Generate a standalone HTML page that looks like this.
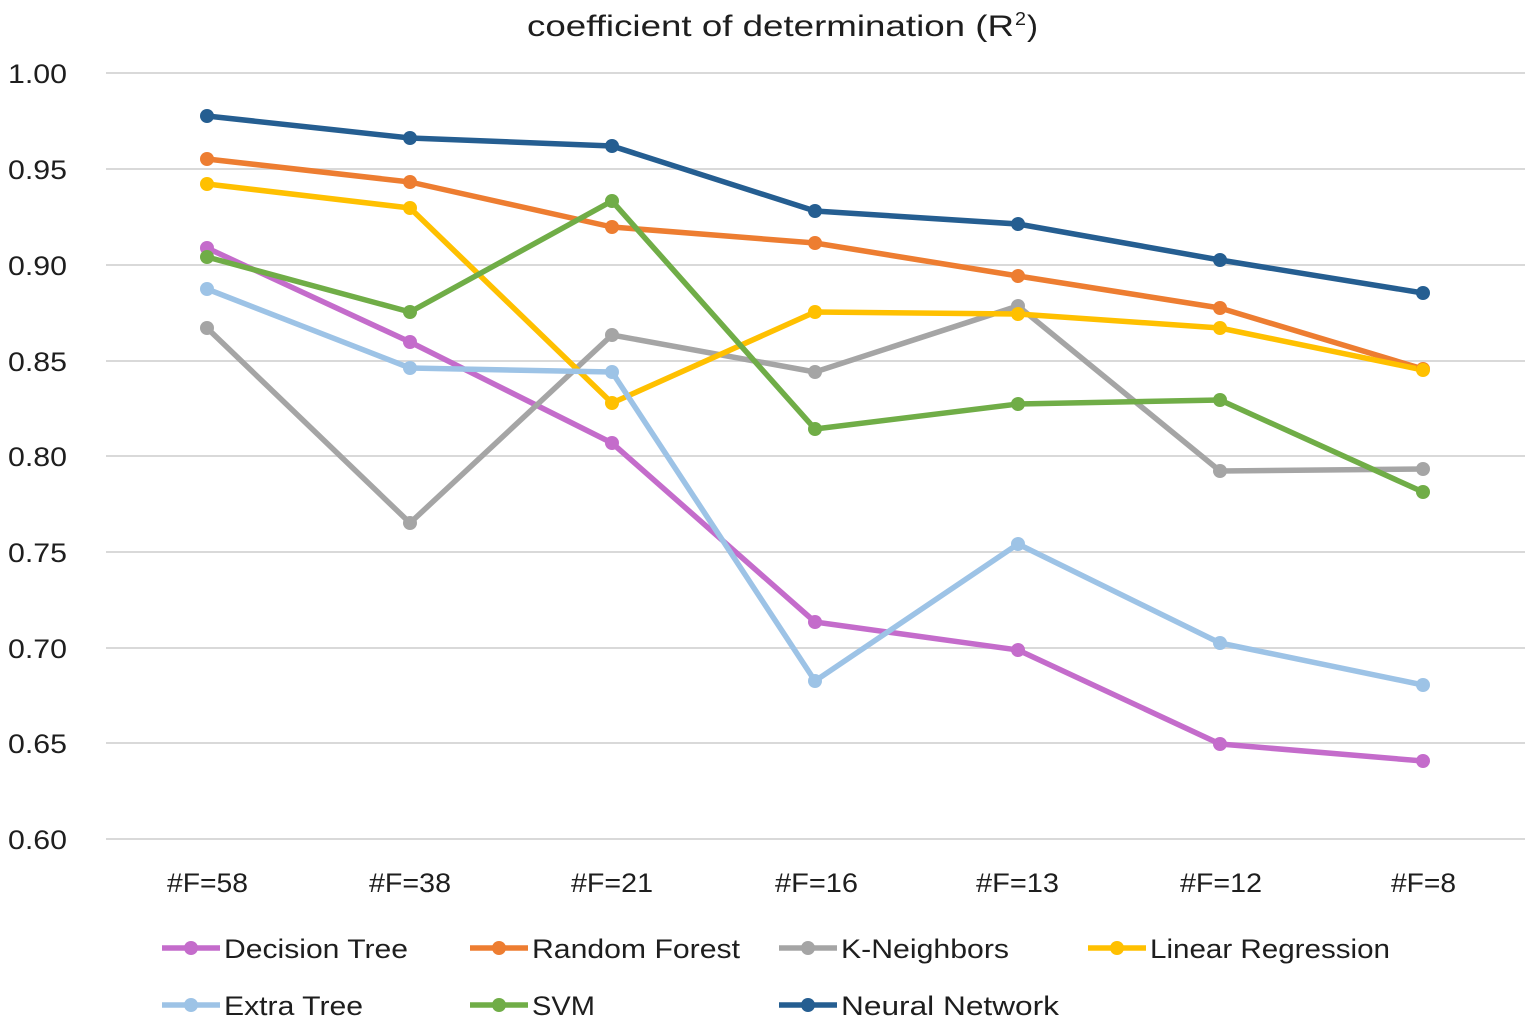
<!DOCTYPE html>
<html>
<head>
<meta charset="utf-8">
<style>
  html,body{margin:0;padding:0;background:#fff;}
  svg{display:block;}
  text{font-family:"Liberation Sans",Arial,sans-serif;fill:#1e1e1e;}
</style>
</head>
<body>
<svg width="1535" height="1025" viewBox="0 0 1535 1025" xmlns="http://www.w3.org/2000/svg">
  <rect x="0" y="0" width="1535" height="1025" fill="#fff"/>
  <!-- title -->
  <text x="527" y="36" font-size="30" textLength="487" lengthAdjust="spacingAndGlyphs">coefficient of determination (R</text>
  <text x="1015" y="25" font-size="18" textLength="11" lengthAdjust="spacingAndGlyphs">2</text>
  <text x="1027" y="36" font-size="30" textLength="11" lengthAdjust="spacingAndGlyphs">)</text>

  <!-- gridlines -->
  <g stroke="#d9d9d9" stroke-width="2">
    <line x1="106" y1="73" x2="1525" y2="73"/>
    <line x1="106" y1="169" x2="1525" y2="169"/>
    <line x1="106" y1="265" x2="1525" y2="265"/>
    <line x1="106" y1="361" x2="1525" y2="361"/>
    <line x1="106" y1="456" x2="1525" y2="456"/>
    <line x1="106" y1="552" x2="1525" y2="552"/>
    <line x1="106" y1="648" x2="1525" y2="648"/>
    <line x1="106" y1="743" x2="1525" y2="743"/>
    <line x1="106" y1="839" x2="1525" y2="839"/>
  </g>

  <!-- y tick labels -->
  <g font-size="27">
    <text x="8" y="83" textLength="59" lengthAdjust="spacingAndGlyphs">1.00</text>
    <text x="8" y="179" textLength="59" lengthAdjust="spacingAndGlyphs">0.95</text>
    <text x="8" y="275" textLength="59" lengthAdjust="spacingAndGlyphs">0.90</text>
    <text x="8" y="371" textLength="59" lengthAdjust="spacingAndGlyphs">0.85</text>
    <text x="8" y="466" textLength="59" lengthAdjust="spacingAndGlyphs">0.80</text>
    <text x="8" y="562" textLength="59" lengthAdjust="spacingAndGlyphs">0.75</text>
    <text x="8" y="658" textLength="59" lengthAdjust="spacingAndGlyphs">0.70</text>
    <text x="8" y="753" textLength="59" lengthAdjust="spacingAndGlyphs">0.65</text>
    <text x="8" y="849" textLength="59" lengthAdjust="spacingAndGlyphs">0.60</text>
  </g>

  <!-- x labels -->
  <g font-size="27">
    <text x="167" y="892" textLength="81" lengthAdjust="spacingAndGlyphs">#F=58</text>
    <text x="369" y="892" textLength="82" lengthAdjust="spacingAndGlyphs">#F=38</text>
    <text x="571" y="892" textLength="82" lengthAdjust="spacingAndGlyphs">#F=21</text>
    <text x="775" y="892" textLength="83" lengthAdjust="spacingAndGlyphs">#F=16</text>
    <text x="976" y="892" textLength="83" lengthAdjust="spacingAndGlyphs">#F=13</text>
    <text x="1180" y="892" textLength="82" lengthAdjust="spacingAndGlyphs">#F=12</text>
    <text x="1391" y="892" textLength="65" lengthAdjust="spacingAndGlyphs">#F=8</text>
  </g>

  <!-- series -->
  <g fill="none" stroke-width="5.5" stroke-linejoin="round" stroke-linecap="round">
    <polyline stroke="#c46ccb" points="207,248 410,342 612,443 815,622 1018,650 1220,744 1423,761"/>
    <polyline stroke="#ed7d31" points="207,159 410,182 612,227 815,243 1018,276 1220,308 1423,369"/>
    <polyline stroke="#a5a5a5" points="207,328 410,523 612,335 815,372 1018,306 1220,471 1423,469"/>
    <polyline stroke="#ffc000" points="207,184 410,208 612,403 815,312 1018,314 1220,328 1423,370"/>
    <polyline stroke="#9dc3e6" points="207,289 410,368 612,372 815,681 1018,544 1220,643 1423,685"/>
    <polyline stroke="#70ad47" points="207,257 410,312 612,201 815,429 1018,404 1220,400 1423,492"/>
    <polyline stroke="#255e91" points="207,116 410,138 612,146 815,211 1018,224 1220,260 1423,293"/>
  </g>
  <g>
    <g fill="#c46ccb">
      <circle cx="207" cy="248" r="7"/><circle cx="410" cy="342" r="7"/><circle cx="612" cy="443" r="7"/><circle cx="815" cy="622" r="7"/><circle cx="1018" cy="650" r="7"/><circle cx="1220" cy="744" r="7"/><circle cx="1423" cy="761" r="7"/>
    </g>
    <g fill="#ed7d31">
      <circle cx="207" cy="159" r="7"/><circle cx="410" cy="182" r="7"/><circle cx="612" cy="227" r="7"/><circle cx="815" cy="243" r="7"/><circle cx="1018" cy="276" r="7"/><circle cx="1220" cy="308" r="7"/><circle cx="1423" cy="369" r="7"/>
    </g>
    <g fill="#a5a5a5">
      <circle cx="207" cy="328" r="7"/><circle cx="410" cy="523" r="7"/><circle cx="612" cy="335" r="7"/><circle cx="815" cy="372" r="7"/><circle cx="1018" cy="306" r="7"/><circle cx="1220" cy="471" r="7"/><circle cx="1423" cy="469" r="7"/>
    </g>
    <g fill="#ffc000">
      <circle cx="207" cy="184" r="7"/><circle cx="410" cy="208" r="7"/><circle cx="612" cy="403" r="7"/><circle cx="815" cy="312" r="7"/><circle cx="1018" cy="314" r="7"/><circle cx="1220" cy="328" r="7"/><circle cx="1423" cy="370" r="7"/>
    </g>
    <g fill="#9dc3e6">
      <circle cx="207" cy="289" r="7"/><circle cx="410" cy="368" r="7"/><circle cx="612" cy="372" r="7"/><circle cx="815" cy="681" r="7"/><circle cx="1018" cy="544" r="7"/><circle cx="1220" cy="643" r="7"/><circle cx="1423" cy="685" r="7"/>
    </g>
    <g fill="#70ad47">
      <circle cx="207" cy="257" r="7"/><circle cx="410" cy="312" r="7"/><circle cx="612" cy="201" r="7"/><circle cx="815" cy="429" r="7"/><circle cx="1018" cy="404" r="7"/><circle cx="1220" cy="400" r="7"/><circle cx="1423" cy="492" r="7"/>
    </g>
    <g fill="#255e91">
      <circle cx="207" cy="116" r="7"/><circle cx="410" cy="138" r="7"/><circle cx="612" cy="146" r="7"/><circle cx="815" cy="211" r="7"/><circle cx="1018" cy="224" r="7"/><circle cx="1220" cy="260" r="7"/><circle cx="1423" cy="293" r="7"/>
    </g>
  </g>

  <!-- legend -->
  <g stroke-width="5.5" stroke-linecap="butt">
    <line x1="162" y1="948" x2="220" y2="948" stroke="#c46ccb"/>
    <line x1="470" y1="948" x2="528" y2="948" stroke="#ed7d31"/>
    <line x1="779" y1="948" x2="837" y2="948" stroke="#a5a5a5"/>
    <line x1="1088" y1="948" x2="1146" y2="948" stroke="#ffc000"/>
    <line x1="162" y1="1005" x2="220" y2="1005" stroke="#9dc3e6"/>
    <line x1="470" y1="1005" x2="528" y2="1005" stroke="#70ad47"/>
    <line x1="779" y1="1005" x2="837" y2="1005" stroke="#255e91"/>
  </g>
  <circle cx="191" cy="948" r="7" fill="#c46ccb"/>
  <circle cx="499" cy="948" r="7" fill="#ed7d31"/>
  <circle cx="808" cy="948" r="7" fill="#a5a5a5"/>
  <circle cx="1117" cy="948" r="7" fill="#ffc000"/>
  <circle cx="191" cy="1005" r="7" fill="#9dc3e6"/>
  <circle cx="499" cy="1005" r="7" fill="#70ad47"/>
  <circle cx="808" cy="1005" r="7" fill="#255e91"/>

  <g font-size="27">
    <text x="224" y="958" textLength="184" lengthAdjust="spacingAndGlyphs">Decision Tree</text>
    <text x="532" y="958" textLength="208" lengthAdjust="spacingAndGlyphs">Random Forest</text>
    <text x="841" y="958" textLength="168" lengthAdjust="spacingAndGlyphs">K-Neighbors</text>
    <text x="1150" y="958" textLength="240" lengthAdjust="spacingAndGlyphs">Linear Regression</text>
    <text x="224" y="1015" textLength="139" lengthAdjust="spacingAndGlyphs">Extra Tree</text>
    <text x="532" y="1015" textLength="63" lengthAdjust="spacingAndGlyphs">SVM</text>
    <text x="841" y="1015" textLength="218" lengthAdjust="spacingAndGlyphs">Neural Network</text>
  </g>
</svg>
</body>
</html>
